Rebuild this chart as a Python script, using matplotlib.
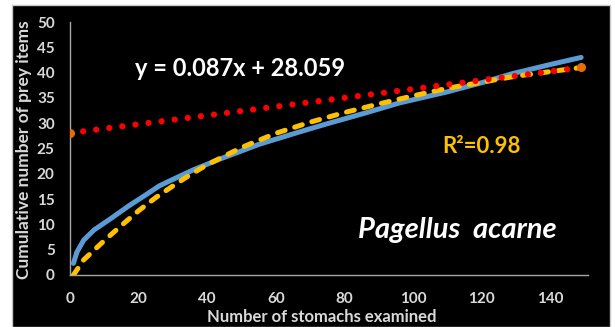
import matplotlib
matplotlib.use("Agg")
from matplotlib import pyplot as plt
from matplotlib.patches import Rectangle

# cumulative prey curve
blue_x = [1, 2, 4, 7, 12, 17, 22, 26, 30, 36, 44, 48, 55, 67, 75, 86, 96, 110, 120, 129, 140, 149]
blue_y = [2.3, 4.5, 6.9, 8.9, 11.2, 13.6, 15.8, 17.6, 18.9, 20.8, 23.0, 24.0, 25.8, 28.3, 29.9, 32.0, 34.0, 36.2, 38.0, 39.8, 41.6, 43.0]

# fitted curve (dashed yellow)
fit_x = [1, 4, 10, 15, 20, 25, 30, 35, 40, 50, 60, 70, 80, 90, 100, 110, 120, 130, 140, 149]
fit_y = [0, 3.0, 6.8, 9.8, 12.7, 15.3, 17.6, 19.8, 21.8, 25.2, 28.0, 30.2, 32.1, 33.8, 35.4, 36.9, 38.1, 39.3, 40.2, 41.0]

# linear trendline end points
trend_x = [0, 149]
trend_y = [28.06, 41.02]

x_ticks = [0, 20, 40, 60, 80, 100, 120, 140]
y_ticks = [0, 5, 10, 15, 20, 25, 30, 35, 40, 45, 50]

plt.rcParams['font.family'] = ['Lato', 'DejaVu Sans']
plt.rcParams['font.weight'] = 'bold'

fig = plt.figure(figsize=(6.15, 3.27), dpi=100)
fig.patch.set_facecolor('white')
fig.patches.append(Rectangle((12/615, 0), 598/615, 322/327, transform=fig.transFigure,
                             facecolor='black', edgecolor='#c8c8c8', linewidth=1, zorder=-5))

ax = fig.add_axes([70/615, 1 - 275/327, 518/615, 253/327])
ax.set_zorder(2)
ax.set_facecolor('black')

ax.plot(blue_x, blue_y, color='#5B9BD5', linewidth=3.6, solid_capstyle='round', zorder=2)
ax.plot(fit_x, fit_y, color='#FFC000', linewidth=3.6, linestyle=(0, (1.6, 2.0)),
        dash_capstyle='round', zorder=3)
ax.plot(trend_x, trend_y, color='#FF0000', linewidth=4.5, linestyle=(0, (0.01, 2.1)),
        dash_capstyle='round', marker='o', markersize=5.5, markerfacecolor='#E46C0A',
        markeredgecolor='#E46C0A', zorder=4)

ax.set_xlim(0, 151)
ax.set_ylim(0, 50)
ax.set_xticks(x_ticks)
ax.set_yticks(y_ticks)
ax.tick_params(length=0, colors='#D9D9D9', labelsize=11)
ax.tick_params(axis='y', pad=11)
ax.tick_params(axis='x', pad=12)
for lab in ax.get_xticklabels() + ax.get_yticklabels():
    lab.set_fontweight('bold')
for s in ['top', 'right']:
    ax.spines[s].set_visible(False)
for s in ['left', 'bottom']:
    ax.spines[s].set_color('#A6A6A6')
    ax.spines[s].set_linewidth(1)

fig.text(322/615, 1 - 317/327, 'Number of stomachs examined', color='#D9D9D9',
         fontsize=12, fontweight='bold', ha='center', va='center')
fig.text(24/615, 1 - 150/327, 'Cumulative number of prey items', color='#D9D9D9',
         fontsize=12.5, fontweight='bold', ha='center', va='center', rotation=90)

fig.text(240/615, 1 - 68/327, 'y = 0.087x + 28.059', color='white',
         fontsize=17, fontweight='bold', ha='center', va='center', zorder=5)
fig.text(481/615, 1 - 146/327, 'R²=0.98', color='#FFC000',
         fontsize=16, fontweight='bold', ha='center', va='center', zorder=5)
fig.text(457/615, 1 - 230/327, 'Pagellus  acarne', color='white',
         fontsize=21, fontweight='bold', style='italic', ha='center', va='center', zorder=5)

fig.savefig('out.png', dpi=100, facecolor='white')
